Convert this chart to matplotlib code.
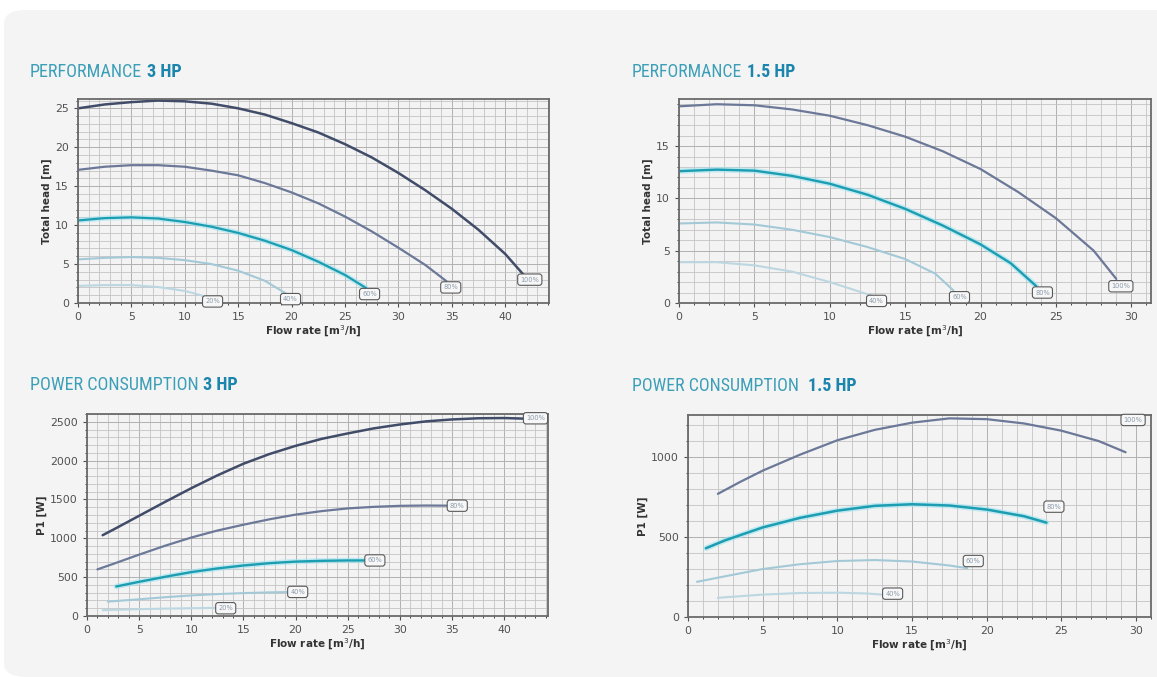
import matplotlib
matplotlib.use('Agg')
import matplotlib.pyplot as plt
from matplotlib import font_manager
from matplotlib.patches import FancyBboxPatch
from matplotlib.ticker import MultipleLocator

# ---- data ----
speeds = ['100%', '80%', '60%', '40%', '20%']

# performance 3 HP  (flow m3/h, head m)
h3_q100 = [0, 2.5, 5, 7.5, 10, 12.5, 15, 17.5, 20, 22.5, 25, 27.5, 30, 32.5, 35, 37.5, 40, 41.8]
h3_h100 = [25.0, 25.5, 25.8, 26.0, 25.9, 25.6, 25.0, 24.2, 23.1, 21.9, 20.4, 18.7, 16.7, 14.5, 12.1, 9.4, 6.3, 3.5]
h3_q80 = [0, 2.5, 5, 7.5, 10, 12.5, 15, 17.5, 20, 22.5, 25, 27.5, 30, 32.5, 34.5]
h3_h80 = [17.1, 17.5, 17.7, 17.7, 17.5, 17.0, 16.4, 15.4, 14.2, 12.8, 11.1, 9.2, 7.1, 4.9, 2.8]
h3_q60 = [0, 2.5, 5, 7.5, 10, 12.5, 15, 17.5, 20, 22.5, 25, 27]
h3_h60 = [10.6, 10.9, 11.0, 10.85, 10.4, 9.8, 9.0, 8.0, 6.8, 5.3, 3.6, 1.9]
h3_q40 = [0, 2.5, 5, 7.5, 10, 12.5, 15, 17.5, 19.5]
h3_h40 = [5.6, 5.8, 5.9, 5.8, 5.5, 5.0, 4.15, 2.85, 1.2]
h3_q20 = [0, 2.5, 5, 7.5, 10, 11.5, 12.5]
h3_h20 = [2.2, 2.3, 2.3, 2.05, 1.55, 1.0, 0.5]
h3_lab_q = [42.3, 34.9, 27.3, 19.9, 12.6]
h3_lab_h = [3.0, 2.0, 1.15, 0.5, 0.2]

# performance 1.5 HP
h15_q100 = [0, 2.5, 5, 7.5, 10, 12.5, 15, 17.5, 20, 22.5, 25, 27.5, 29]
h15_h100 = [18.8, 19.0, 18.9, 18.5, 17.9, 17.0, 15.9, 14.5, 12.8, 10.6, 8.1, 5.0, 2.3]
h15_q80 = [0, 2.5, 5, 7.5, 10, 12.5, 15, 17.5, 20, 22, 23.7]
h15_h80 = [12.6, 12.75, 12.65, 12.15, 11.4, 10.35, 9.0, 7.4, 5.6, 3.8, 1.6]
h15_q60 = [0, 2.5, 5, 7.5, 10, 12.5, 15, 17, 18.2]
h15_h60 = [7.6, 7.7, 7.5, 7.0, 6.3, 5.35, 4.2, 2.8, 1.2]
h15_q40 = [0, 2.5, 5, 7.5, 10, 12.8]
h15_h40 = [3.9, 3.9, 3.6, 3.0, 2.0, 0.7]
h15_lab_q = [29.3, 24.1, 18.6, 13.1]
h15_lab_h = [1.6, 1.0, 0.55, 0.2]

# power consumption 3 HP  (flow m3/h, P1 W)
p3_q100 = [1.5, 2.5, 5, 7.5, 10, 12.5, 15, 17.5, 20, 22.5, 25, 27.5, 30, 32.5, 35, 37.5, 40, 42]
p3_p100 = [1040, 1110, 1290, 1470, 1645, 1810, 1960, 2085, 2190, 2280, 2350, 2415, 2465, 2505, 2530, 2545, 2548, 2540]
p3_q80 = [1, 2.5, 5, 7.5, 10, 12.5, 15, 17.5, 20, 22.5, 25, 27.5, 30, 32.5, 35]
p3_p80 = [600, 670, 790, 905, 1010, 1100, 1175, 1245, 1305, 1350, 1385, 1405, 1418, 1422, 1420]
p3_q60 = [2.8, 5, 7.5, 10, 12.5, 15, 17.5, 20, 22.5, 25, 27]
p3_p60 = [380, 440, 505, 565, 612, 650, 680, 700, 710, 715, 715]
p3_q40 = [2, 5, 7.5, 10, 12.5, 15, 17.5, 20]
p3_p40 = [185, 215, 242, 265, 282, 295, 304, 310]
p3_q20 = [1.5, 5, 7.5, 10, 12.5]
p3_p20 = [75, 88, 95, 100, 105]
p3_lab_q = [43.0, 35.5, 27.6, 20.2, 13.3]
p3_lab_p = [2545, 1420, 715, 310, 100]

# power consumption 1.5 HP
p15_q100 = [2, 3.5, 5, 7.5, 10, 12.5, 15, 17.5, 20, 22.5, 25, 27.5, 29.3]
p15_p100 = [770, 845, 915, 1015, 1105, 1170, 1215, 1242, 1237, 1210, 1165, 1100, 1030]
p15_q80 = [1.2, 2.5, 5, 7.5, 10, 12.5, 15, 17.5, 20, 22.5, 24]
p15_p80 = [430, 480, 560, 620, 665, 695, 705, 697, 672, 630, 590]
p15_q60 = [0.6, 2.5, 5, 7.5, 10, 12.5, 15, 17.5, 18.7]
p15_p60 = [220, 255, 300, 330, 350, 356, 347, 322, 305]
p15_q40 = [2, 5, 7.5, 10, 12, 13]
p15_p40 = [120, 140, 150, 152, 147, 140]
p15_lab_q = [29.8, 24.5, 19.1, 13.7]
p15_lab_p = [1232, 690, 350, 146]

# colours
c_dark = '#414c69'
c_mid = '#6c7898'
c_teal = '#1c9db2'
c_light = '#a3c9d7'
c_pale = '#bcd7e1'

W, H = 1157, 677
fig = plt.figure(figsize=(W / 100, H / 100), dpi=100)
fig.patch.set_facecolor('white')

# narrowest installed family for the headings
installed = {f.name for f in font_manager.fontManager.ttflist}
head_font = 'DejaVu Sans'
for name in ['Liberation Sans Narrow', 'Roboto Condensed', 'DejaVu Sans Condensed',
             'Open Sans Condensed', 'Roboto', 'Liberation Sans']:
    if name in installed:
        head_font = name
        break

# rounded grey panel behind everything
panel = FancyBboxPatch((4 / W, 0), 1.2, 1 - 10 / H,
                       boxstyle='round,pad=0,rounding_size=0.02',
                       transform=fig.transFigure, facecolor='#f4f4f4',
                       edgecolor='none', zorder=-10)
fig.patches.append(panel)
renderer = fig.canvas.get_renderer()


def rect(l, r, t, b):
    return [l / W, 1 - b / H, (r - l) / W, (b - t) / H]


def title(x, y, light, bold, width):
    t1 = fig.text(x / W, 1 - y / H, light, fontsize=14, color='#3c9fb8',
                  family=head_font, va='center')
    t2 = fig.text(0, 1 - y / H, bold, fontsize=14, color='#1b85ad',
                  fontweight='bold', family=head_font, va='center')
    gap = 5
    w = t1.get_window_extent(renderer).width + gap + t2.get_window_extent(renderer).width
    fs = min(14 * width / w, 15)
    t1.set_fontsize(fs)
    t2.set_fontsize(fs)
    w1 = t1.get_window_extent(renderer).width
    t2.set_x((x + w1 + gap * fs / 14) / W)


def setup(ax, xlim, ylim, xmaj, ymaj, ymin, ylabel):
    ax.set_facecolor('#f3f3f3')
    ax.set_xlim(*xlim)
    ax.set_ylim(*ylim)
    ax.xaxis.set_major_locator(MultipleLocator(xmaj))
    ax.xaxis.set_minor_locator(MultipleLocator(1))
    ax.yaxis.set_major_locator(MultipleLocator(ymaj))
    ax.yaxis.set_minor_locator(MultipleLocator(ymin))
    ax.grid(which='major', color='#b0b0b0', lw=0.7)
    ax.grid(which='minor', color='#c4c4c4', lw=0.6)
    ax.set_axisbelow(True)
    for s in ax.spines.values():
        s.set_color('#6a6a6a')
        s.set_linewidth(1.3)
    ax.tick_params(labelsize=7.8, colors='#505050', length=3, width=0.8)
    ax.tick_params(which='minor', length=1.5, width=0.5)
    ax.set_xlabel('Flow rate [m$^3$/h]', fontsize=7.5, fontweight='bold',
                  color='#333333', labelpad=1)
    ax.set_ylabel(ylabel, fontsize=7.5, fontweight='bold', color='#333333',
                  labelpad=2)


def draw(ax, qs, vs, cols, lab_q, lab_v, lws):
    for i, (q, v, c) in enumerate(zip(qs, vs, cols)):
        if c == c_teal:
            ax.plot(q, v, color='#9fe3ef', lw=lws[i] + 2.2, alpha=0.6,
                    solid_capstyle='round')
        ax.plot(q, v, color=c, lw=lws[i], solid_capstyle='round',
                solid_joinstyle='round')
        ax.text(lab_q[i], lab_v[i], speeds[i], fontsize=4.8, color='#8a9aaa',
                ha='center', va='center', zorder=5,
                bbox=dict(boxstyle='round,pad=0.4', fc='#f7f7f7',
                          ec='#5a5a5a', lw=0.8))


# performance 3 HP
ax1 = fig.add_axes(rect(78, 549, 99, 303))
setup(ax1, (0, 44.1), (0, 26.2), 5, 5, 1, 'Total head [m]')
draw(ax1, [h3_q100, h3_q80, h3_q60, h3_q40, h3_q20],
     [h3_h100, h3_h80, h3_h60, h3_h40, h3_h20],
     [c_dark, c_mid, c_teal, c_light, c_pale],
     h3_lab_q, h3_lab_h, [1.8, 1.6, 1.6, 1.5, 1.5])
title(30, 72, 'PERFORMANCE', '3 HP', 153)

# performance 1.5 HP
ax2 = fig.add_axes(rect(679, 1151, 99, 303))
setup(ax2, (0, 31.3), (0, 19.5), 5, 5, 1, 'Total head [m]')
draw(ax2, [h15_q100, h15_q80, h15_q60, h15_q40],
     [h15_h100, h15_h80, h15_h60, h15_h40],
     [c_mid, c_teal, c_light, c_pale],
     h15_lab_q, h15_lab_h, [1.6, 1.7, 1.5, 1.5])
title(632, 72, 'PERFORMANCE', '1.5 HP', 164)

# power 3 HP
ax3 = fig.add_axes(rect(87, 548, 414, 616))
setup(ax3, (0, 44.2), (0, 2600), 5, 500, 100, 'P1 [W]')
draw(ax3, [p3_q100, p3_q80, p3_q60, p3_q40, p3_q20],
     [p3_p100, p3_p80, p3_p60, p3_p40, p3_p20],
     [c_dark, c_mid, c_teal, c_light, c_pale],
     p3_lab_q, p3_lab_p, [1.8, 1.6, 1.7, 1.5, 1.5])
title(30, 385, 'POWER CONSUMPTION', '3 HP', 210)

# power 1.5 HP
ax4 = fig.add_axes(rect(688, 1151, 415, 617))
setup(ax4, (0, 31.0), (0, 1263), 5, 500, 100, 'P1 [W]')
draw(ax4, [p15_q100, p15_q80, p15_q60, p15_q40],
     [p15_p100, p15_p80, p15_p60, p15_p40],
     [c_mid, c_teal, c_light, c_pale],
     p15_lab_q, p15_lab_p, [1.6, 1.8, 1.5, 1.5])
title(632, 386, 'POWER CONSUMPTION ', '1.5 HP', 225)

fig.savefig('out.png', dpi=100, facecolor=fig.get_facecolor())
